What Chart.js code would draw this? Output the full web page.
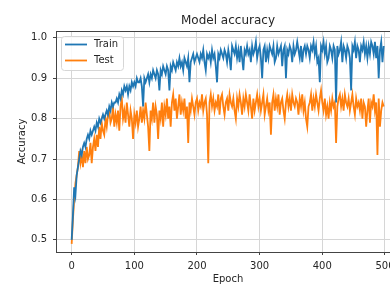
<!DOCTYPE html>
<html>
<head>
<meta charset="utf-8">
<script src="https://cdn.jsdelivr.net/npm/chart.js@4"></script>
<style>
  html, body { margin: 0; padding: 0; background: #fff; overflow: hidden; }
  #wrap { width: 400px; height: 284px; position: relative; }
</style>
</head>
<body>
<div id="wrap"><canvas id="accChart"></canvas></div>
<script>
// accuracy, one value every 2 epochs
const trainAcc = [
    0.50, 0.56, 0.63, 0.61, 0.66, 0.68, 0.70, 0.72, 0.71, 0.73,
    0.74, 0.73, 0.75, 0.76, 0.75, 0.77, 0.76, 0.77, 0.78, 0.77,
    0.79, 0.78, 0.80, 0.79, 0.80, 0.81, 0.80, 0.81, 0.82, 0.81,
    0.83, 0.82, 0.84, 0.83, 0.84, 0.84, 0.85, 0.84, 0.86, 0.85,
    0.87, 0.86, 0.88, 0.87, 0.88, 0.86, 0.88, 0.87, 0.89, 0.88,
    0.89, 0.88, 0.90, 0.89, 0.89, 0.90, 0.88, 0.83, 0.90, 0.89,
    0.90, 0.91, 0.89, 0.91, 0.90, 0.92, 0.91, 0.90, 0.92, 0.91,
    0.87, 0.92, 0.91, 0.93, 0.92, 0.91, 0.93, 0.92, 0.87, 0.93,
    0.92, 0.94, 0.93, 0.92, 0.94, 0.93, 0.95, 0.93, 0.94, 0.92,
    0.95, 0.94, 0.93, 0.95, 0.89, 0.94, 0.95, 0.96, 0.94, 0.95,
    0.96, 0.95, 0.94, 0.96, 0.95, 0.97, 0.94, 0.92, 0.96, 0.95,
    0.96, 0.94, 0.97, 0.95, 0.96, 0.93, 0.89, 0.96, 0.95, 0.97,
    0.96, 0.95, 0.97, 0.96, 0.94, 0.97, 0.95, 0.92, 0.98, 0.97,
    0.96, 0.98, 0.95, 0.97, 0.94, 0.98, 0.95, 0.92, 0.97, 0.96,
    0.98, 0.96, 0.97, 0.94, 0.98, 0.96, 0.97, 0.99, 0.95, 0.97,
    0.98, 0.95, 0.90, 0.97, 0.98, 0.94, 0.97, 0.95, 0.98, 0.97,
    0.96, 0.98, 0.94, 0.95, 0.98, 0.96, 0.97, 0.98, 0.93, 0.97,
    0.98, 0.90, 0.97, 0.96, 0.98, 0.97, 0.94, 0.98, 0.96, 0.97,
    0.99, 0.97, 0.95, 0.98, 0.94, 0.97, 0.98, 0.96, 0.98, 0.97,
    0.95, 0.98, 0.97, 0.99, 0.96, 0.98, 0.94, 0.95, 0.89, 0.98,
    0.97, 0.99, 0.96, 0.98, 0.94, 0.95, 0.98, 0.97, 0.95, 0.98,
    0.97, 0.84, 0.98, 0.96, 0.97, 0.99, 0.94, 0.98, 0.97, 0.95,
    0.98, 0.97, 0.95, 0.87, 0.98, 0.97, 0.99, 0.95, 0.98, 0.97,
    0.94, 0.98, 0.97, 0.99, 0.96, 0.98, 0.95, 0.98, 0.96, 0.99,
    0.98, 0.96, 0.99, 0.95, 0.98, 0.90, 0.97, 0.99, 0.94, 0.98
];
const testAcc = [
    0.49, 0.55, 0.60, 0.64, 0.66, 0.68, 0.72, 0.69, 0.71, 0.68,
    0.72, 0.69, 0.73, 0.70, 0.71, 0.74, 0.69, 0.73, 0.75, 0.72,
    0.76, 0.73, 0.78, 0.75, 0.79, 0.77, 0.76, 0.80, 0.78, 0.81,
    0.82, 0.79, 0.80, 0.83, 0.78, 0.81, 0.79, 0.82, 0.77, 0.83,
    0.85, 0.80, 0.82, 0.79, 0.84, 0.81, 0.78, 0.82, 0.80, 0.75,
    0.81, 0.79, 0.82, 0.78, 0.80, 0.83, 0.79, 0.82, 0.80, 0.84,
    0.81, 0.78, 0.72, 0.82, 0.80, 0.84, 0.79, 0.83, 0.81, 0.75,
    0.82, 0.80, 0.84, 0.78, 0.83, 0.81, 0.85, 0.80, 0.83, 0.78,
    0.84, 0.86, 0.82, 0.85, 0.80, 0.83, 0.86, 0.81, 0.84, 0.82,
    0.85, 0.80, 0.83, 0.74, 0.84, 0.82, 0.85, 0.83, 0.81, 0.84,
    0.85, 0.82, 0.84, 0.83, 0.86, 0.82, 0.84, 0.85, 0.81, 0.69,
    0.84, 0.86, 0.83, 0.85, 0.82, 0.84, 0.83, 0.86, 0.81, 0.85,
    0.86, 0.83, 0.81, 0.84, 0.85, 0.82, 0.86, 0.84, 0.83, 0.85,
    0.82, 0.80, 0.85, 0.83, 0.86, 0.84, 0.81, 0.85, 0.83, 0.86,
    0.84, 0.82, 0.86, 0.83, 0.80, 0.85, 0.82, 0.84, 0.86, 0.83,
    0.85, 0.82, 0.84, 0.86, 0.81, 0.83, 0.85, 0.82, 0.84, 0.76,
    0.84, 0.86, 0.82, 0.85, 0.83, 0.86, 0.81, 0.84, 0.85, 0.82,
    0.80, 0.84, 0.86, 0.83, 0.85, 0.82, 0.86, 0.84, 0.83, 0.85,
    0.84, 0.81, 0.85, 0.83, 0.86, 0.82, 0.84, 0.80, 0.78, 0.83,
    0.84, 0.86, 0.82, 0.85, 0.83, 0.86, 0.84, 0.82, 0.85, 0.87,
    0.84, 0.82, 0.85, 0.81, 0.83, 0.80, 0.84, 0.82, 0.85, 0.83,
    0.84, 0.74, 0.83, 0.85, 0.86, 0.83, 0.85, 0.82, 0.86, 0.84,
    0.83, 0.85, 0.82, 0.84, 0.86, 0.83, 0.81, 0.85, 0.83, 0.84,
    0.82, 0.85, 0.80, 0.84, 0.83, 0.78, 0.82, 0.85, 0.79, 0.84,
    0.83, 0.86, 0.82, 0.84, 0.71, 0.85, 0.78, 0.82, 0.84, 0.83
];
const epochs = trainAcc.map((_, i) => i * 2);

const xTicks = [0, 100, 200, 300, 400, 500];
const yTicks = [0.5, 0.6, 0.7, 0.8, 0.9, 1.0];
const seriesNames = ["Train", "Test"];

const BLUE = "#1f77b4";
const ORANGE = "#ff7f0e";
const FONT = "'DejaVu Sans', sans-serif";
const TEXT = "#262626";

// matplotlib-ish frame, centred title and boxed legend inside the axes
const mplDecor = {
    id: "mplDecor",
    afterDraw(chart) {
        const { ctx, chartArea: a } = chart;
        ctx.save();
        ctx.strokeStyle = "#444";
        ctx.lineWidth = 1;
        ctx.strokeRect(a.left + 0.5, a.top + 0.5, a.right - a.left - 1, a.bottom - a.top);

        ctx.fillStyle = TEXT;
        ctx.font = `12px ${FONT}`;
        ctx.textAlign = "center";
        ctx.textBaseline = "alphabetic";
        ctx.fillText("Model accuracy", (a.left + a.right) / 2, 24);

        // legend box
        const bx = 61, by = 36, bw = 62, bh = 34;
        ctx.beginPath();
        ctx.roundRect(bx + 0.5, by + 0.5, bw, bh, 3);
        ctx.fillStyle = "rgba(255,255,255,0.85)";
        ctx.fill();
        ctx.strokeStyle = "#d6d6d6";
        ctx.stroke();

        [BLUE, ORANGE].forEach((c, i) => {
            const y = by + 8.5 + i * 16;
            ctx.strokeStyle = c;
            ctx.lineWidth = 1.8;
            ctx.beginPath();
            ctx.moveTo(bx + 4, y);
            ctx.lineTo(bx + 26, y);
            ctx.stroke();
            ctx.fillStyle = TEXT;
            ctx.font = `10px ${FONT}`;
            ctx.textAlign = "left";
            ctx.textBaseline = "middle";
            ctx.fillText(seriesNames[i], bx + 33, y);
        });
        ctx.restore();
    }
};

const accChart = new Chart(document.getElementById("accChart"), {
    type: "line",
    data: {
        datasets: [
            { label: seriesNames[0], data: epochs.map((e, i) => ({ x: e, y: trainAcc[i] })), borderColor: BLUE, borderWidth: 1.8, pointRadius: 0, tension: 0 },
            { label: seriesNames[1], data: epochs.map((e, i) => ({ x: e, y: testAcc[i] })), borderColor: ORANGE, borderWidth: 1.8, pointRadius: 0, tension: 0 }
        ]
    },
    options: {
        responsive: true,
        maintainAspectRatio: false,
        animation: false,
        devicePixelRatio: 1,
        layout: { padding: { top: 31, left: 0, right: 0, bottom: 0 } },
        plugins: {
            legend: { display: false },
            title: { display: false },
            tooltip: { enabled: false }
        },
        scales: {
            x: {
                type: "linear",
                min: -25,
                max: 524,
                afterBuildTicks: s => { s.ticks = xTicks.map(v => ({ value: v })); },
                afterFit: s => { s.height = 32; },
                grid: { color: "#d6d6d6", tickColor: "#444", tickLength: 3 },
                border: { display: false },
                ticks: { color: TEXT, font: { family: FONT, size: 10 }, padding: 5, maxRotation: 0 },
                title: { display: true, text: "Epoch", color: TEXT, font: { family: FONT, size: 10, lineHeight: 1.0 }, padding: { top: 0, bottom: 0 } }
            },
            y: {
                min: 0.470,
                max: 1.017,
                afterBuildTicks: s => { s.ticks = yTicks.map(v => ({ value: v })); },
                afterFit: s => { s.width = 56; },
                grid: { color: "#d6d6d6", tickColor: "#444", tickLength: 3 },
                border: { display: false },
                ticks: { color: TEXT, font: { family: FONT, size: 10 }, padding: 6, callback: v => v.toFixed(1) },
                title: { display: true, text: "Accuracy", color: TEXT, font: { family: FONT, size: 10 }, padding: { top: 16, bottom: 0 } }
            }
        }
    },
    plugins: [mplDecor]
});
</script>
</body>
</html>
